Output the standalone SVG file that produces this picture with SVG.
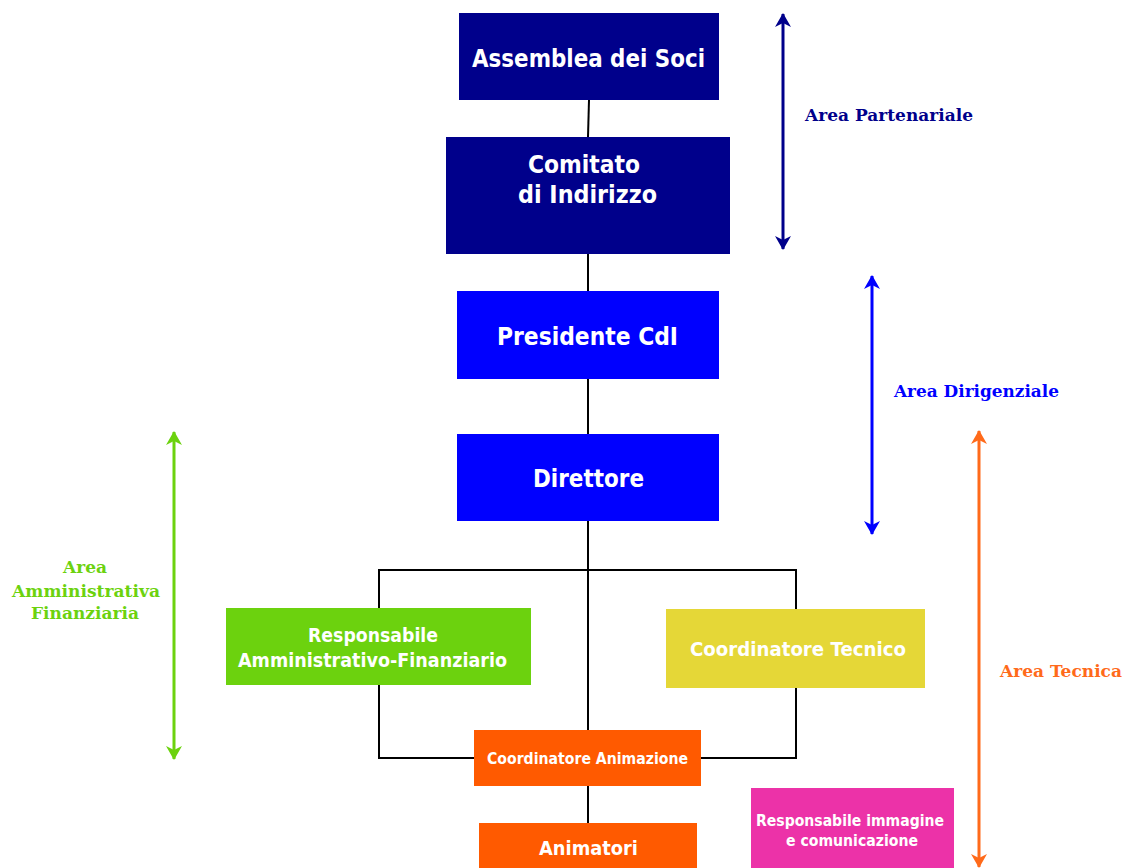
<svg xmlns="http://www.w3.org/2000/svg" width="1129" height="868" viewBox="0 0 1129 868">
<style>
.box{stroke:none}
.t{font-family:"DejaVu Sans","Liberation Sans",sans-serif;font-weight:bold;fill:#fff;text-anchor:middle}
.lbl{font-family:"DejaVu Serif","Liberation Serif",serif;font-weight:bold;font-size:17px}
.conn{stroke:#000;stroke-width:2;fill:none}
.area{stroke-width:3;fill:none}
</style>
<defs>
<marker id="ahNavy" viewBox="0 0 14 16" refX="13" refY="8" markerWidth="14" markerHeight="16" markerUnits="userSpaceOnUse" orient="auto-start-reverse"><path d="M0,0 L14,8 L0,16 L4,8 Z" fill="#00008B"/></marker>
<marker id="ahBlue" viewBox="0 0 14 16" refX="13" refY="8" markerWidth="14" markerHeight="16" markerUnits="userSpaceOnUse" orient="auto-start-reverse"><path d="M0,0 L14,8 L0,16 L4,8 Z" fill="#0000FF"/></marker>
<marker id="ahGreen" viewBox="0 0 14 16" refX="13" refY="8" markerWidth="14" markerHeight="16" markerUnits="userSpaceOnUse" orient="auto-start-reverse"><path d="M0,0 L14,8 L0,16 L4,8 Z" fill="#6CD20E"/></marker>
<marker id="ahOrange" viewBox="0 0 14 16" refX="13" refY="8" markerWidth="14" markerHeight="16" markerUnits="userSpaceOnUse" orient="auto-start-reverse"><path d="M0,0 L14,8 L0,16 L4,8 Z" fill="#FF6A1A"/></marker>
</defs>
<rect width="1129" height="868" fill="#fff"/>
<g id="connectors">
<line class="conn" x1="589" y1="100" x2="588" y2="137"/>
<line class="conn" x1="588" y1="254" x2="588" y2="291"/>
<line class="conn" x1="588" y1="379" x2="588" y2="434"/>
<line class="conn" x1="588" y1="521" x2="588" y2="730"/>
<polyline class="conn" points="379,608 379,570 796,570 796,610"/>
<polyline class="conn" points="379,685 379,758 474,758"/>
<polyline class="conn" points="796,688 796,758 701,758"/>
<line class="conn" x1="588" y1="786" x2="588" y2="823"/>
</g>
<g id="node-assemblea">
<rect class="box" x="459" y="13" width="260" height="87" fill="#00008B"/>
<text class="t" x="588.5" y="67" font-size="24" textLength="233" lengthAdjust="spacingAndGlyphs">Assemblea dei Soci</text>
</g>
<g id="node-comitato">
<rect class="box" x="446" y="137" width="284" height="117" fill="#00008B"/>
<text class="t" x="584" y="173" font-size="24" textLength="112" lengthAdjust="spacingAndGlyphs">Comitato</text>
<text class="t" x="587.5" y="203" font-size="24" textLength="139" lengthAdjust="spacingAndGlyphs">di Indirizzo</text>
</g>
<g id="node-presidente">
<rect class="box" x="457" y="291" width="262" height="88" fill="#0000FF"/>
<text class="t" x="587.5" y="345" font-size="24" textLength="181" lengthAdjust="spacingAndGlyphs">Presidente CdI</text>
</g>
<g id="node-direttore">
<rect class="box" x="457" y="434" width="262" height="87" fill="#0000FF"/>
<text class="t" x="588.5" y="487" font-size="24" textLength="111" lengthAdjust="spacingAndGlyphs">Direttore</text>
</g>
<g id="node-resp-amm">
<rect class="box" x="226" y="608" width="305" height="77" fill="#6CD20E"/>
<text class="t" x="373" y="642" font-size="19" textLength="130" lengthAdjust="spacingAndGlyphs">Responsabile</text>
<text class="t" x="372.5" y="667" font-size="19" textLength="269" lengthAdjust="spacingAndGlyphs">Amministrativo-Finanziario</text>
</g>
<g id="node-coord-tecnico">
<rect class="box" x="666" y="609" width="259" height="79" fill="#E5D737"/>
<text class="t" x="798" y="656" font-size="19" textLength="216" lengthAdjust="spacingAndGlyphs">Coordinatore Tecnico</text>
</g>
<g id="node-coord-anim">
<rect class="box" x="474" y="730" width="227" height="56" fill="#FF5A00"/>
<text class="t" x="587.5" y="764" font-size="16" textLength="201" lengthAdjust="spacingAndGlyphs">Coordinatore Animazione</text>
</g>
<g id="node-animatori">
<rect class="box" x="479" y="823" width="218" height="50" fill="#FF5A00"/>
<text class="t" x="588.5" y="855" font-size="20" textLength="99" lengthAdjust="spacingAndGlyphs">Animatori</text>
</g>
<g id="node-resp-imm">
<rect class="box" x="751" y="788" width="203" height="85" fill="#EC32A8"/>
<text class="t" x="850" y="826" font-size="16" textLength="188" lengthAdjust="spacingAndGlyphs">Responsabile immagine</text>
<text class="t" x="852" y="846" font-size="16" textLength="132" lengthAdjust="spacingAndGlyphs">e comunicazione</text>
</g>
<g id="area-partenariale">
<line class="area" x1="783" y1="14" x2="783" y2="249" stroke="#00008B" marker-start="url(#ahNavy)" marker-end="url(#ahNavy)"/>
<text class="lbl" x="805" y="121" fill="#00008B" textLength="168" lengthAdjust="spacingAndGlyphs">Area Partenariale</text>
</g>
<g id="area-dirigenziale">
<line class="area" x1="872" y1="276" x2="872" y2="534" stroke="#0000FF" marker-start="url(#ahBlue)" marker-end="url(#ahBlue)"/>
<text class="lbl" x="894" y="397" fill="#0000FF" textLength="165" lengthAdjust="spacingAndGlyphs">Area Dirigenziale</text>
</g>
<g id="area-tecnica">
<line class="area" x1="979" y1="431" x2="979" y2="867" stroke="#FF6A1A" marker-start="url(#ahOrange)" marker-end="url(#ahOrange)"/>
<text class="lbl" x="1000" y="677" fill="#FF6A1A" textLength="122" lengthAdjust="spacingAndGlyphs">Area Tecnica</text>
</g>
<g id="area-amministrativa">
<line class="area" x1="174" y1="432" x2="174" y2="759" stroke="#6CD20E" marker-start="url(#ahGreen)" marker-end="url(#ahGreen)"/>
<text class="lbl" fill="#6CD20E" text-anchor="middle"><tspan x="85" y="573" textLength="44" lengthAdjust="spacingAndGlyphs">Area</tspan><tspan x="86" y="597" textLength="148" lengthAdjust="spacingAndGlyphs">Amministrativa</tspan><tspan x="85" y="619" textLength="108" lengthAdjust="spacingAndGlyphs">Finanziaria</tspan></text>
</g>
</svg>
